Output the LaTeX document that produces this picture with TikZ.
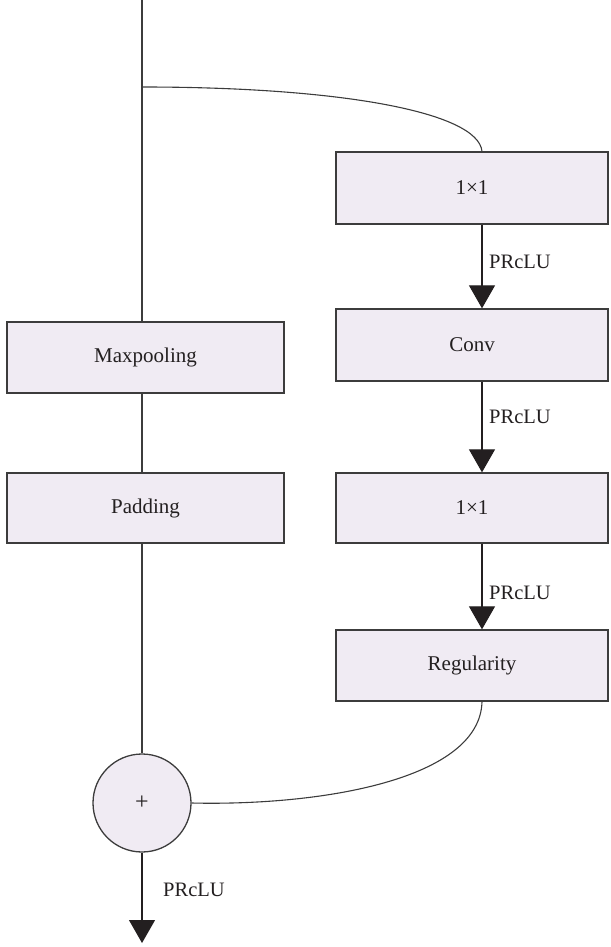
\documentclass[tikz,border=0pt]{standalone}
\usepackage{fontspec}
\setmainfont{Liberation Serif}
\usetikzlibrary{arrows.meta}
\definecolor{boxfill}{RGB}{240,235,243}
\definecolor{edge}{RGB}{60,60,60}
\definecolor{txt}{RGB}{35,31,32}
\tikzset{
  blk/.style={draw=edge, line width=1.3pt, fill=boxfill, rectangle, inner sep=0pt,
     text=txt, font=\fontsize{21}{25}\selectfont},
  conn/.style={draw=edge, line width=1.3pt},
  thin/.style={draw=edge, line width=1.1pt},
  arr/.style={draw=txt, line width=1.1pt, -{Triangle[width=26pt,length=23pt]}},
  lbl/.style={anchor=west, inner sep=0pt, text=txt, font=\fontsize{20.5}{24}\selectfont},
}
\begin{document}
\begin{tikzpicture}[x=1pt,y=-1pt]
\useasboundingbox (0,0) rectangle (610,947);
% left column
\node[blk, minimum width=277pt, minimum height=71pt] (maxpool) at (145.5,357.5) {Maxpooling};
\node[blk, minimum width=277pt, minimum height=70pt] (padding) at (145.5,508) {Padding};
\node[blk, circle, minimum size=98pt, font=\fontsize{24}{28}\selectfont] (plus) at (142,803) {+};
% right column
\node[blk, minimum width=272pt, minimum height=72pt] (c1) at (472,188) {1×1};
\node[blk, minimum width=272pt, minimum height=72pt] (conv) at (472,345) {Conv};
\node[blk, minimum width=272pt, minimum height=70pt] (c2) at (472,508) {1×1};
\node[blk, minimum width=272pt, minimum height=71pt] (reg) at (472,665.5) {Regularity};
% helper coordinates
\coordinate (top) at (142,0);
\coordinate (branch) at (142,87);
\coordinate (rx) at (482,0);
\coordinate (lx) at (142,0);
\coordinate (outend) at (142,943);
% left trunk
\draw[conn] (top) -- (maxpool.north -| lx);
\draw[conn] (maxpool.south -| lx) -- (padding.north -| lx);
\draw[conn] (padding.south -| lx) -- (plus.north);
% branch to right column
\draw[thin] (branch) .. controls (340,87) and (478,112) .. (c1.north -| rx);
% right column arrows
\draw[arr] (c1.south -| rx) -- (conv.north -| rx);
\draw[arr] (conv.south -| rx) -- (c2.north -| rx);
\draw[arr] (c2.south -| rx) -- (reg.north -| rx);
\node[lbl] (l1) at (489,262) {PRcLU};
\node[lbl] (l2) at (489,417) {PRcLU};
\node[lbl] (l3) at (489,593) {PRcLU};
% merge curve
\draw[thin] (reg.south -| rx) .. controls (480,780) and (320,806) .. (plus.east);
% output
\draw[arr] (plus.south) -- (outend);
\node[lbl] (l4) at (163,890) {PRcLU};
\end{tikzpicture}
\end{document}
